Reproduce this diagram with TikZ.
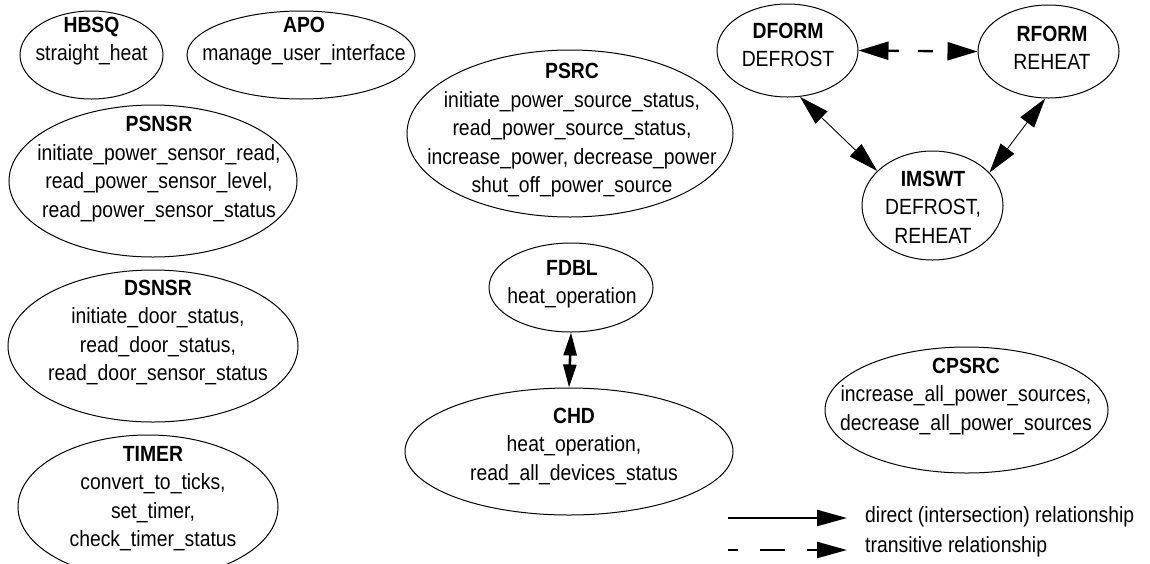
\documentclass[tikz,border=0pt]{standalone}
\usepackage{fontspec}
\setmainfont{Liberation Sans}[FakeStretch=0.88]
\usetikzlibrary{shapes.geometric,arrows.meta}
\begin{document}
\begin{tikzpicture}[x=1pt,y=-1pt,
  ent/.style={ellipse, draw, line width=1pt, inner sep=0pt},
  lbl/.style={align=center, inner sep=0pt, font=\fontsize{22}{28.5}\selectfont},
  key/.style={anchor=west, inner sep=0pt, font=\fontsize{22}{28.5}\selectfont},
  direct/.style={line width=0.9pt, >={Triangle[length=30pt,width=17pt]}, <->},
  trans/.style={line width=2.4pt, dash pattern=on 11pt off 19pt on 15pt off 15pt,
                >={Triangle[length=30pt,width=18pt]}, <->},
  vrel/.style={line width=2.6pt, >={Triangle[length=23pt,width=13pt]}, <->},
  keysolid/.style={line width=2.4pt, -{Triangle[length=30pt,width=16pt]}},
  keydash/.style={line width=2.4pt, dash pattern=on 25pt off 22pt, dash phase=15pt,
                  -{Triangle[length=30pt,width=16pt]}}]
\fill[white] (0,0) rectangle (1150,563);
\useasboundingbox (0,0) rectangle (1150,563);

% ellipses
\node[ent, minimum width=143pt, minimum height=88pt]  (HBSQ)  at (91.5,55)    {};
\node[ent, minimum width=228pt, minimum height=88pt]  (APO)   at (301,55)     {};
\node[ent, minimum width=288pt, minimum height=152pt] (PSNSR) at (153,181)    {};
\node[ent, minimum width=290pt, minimum height=152pt] (DSNSR) at (153,346)    {};
\node[ent, minimum width=260pt, minimum height=144pt] (TIMER) at (148,507)    {};
\node[ent, minimum width=326pt, minimum height=167pt] (PSRC)  at (570,133.5)  {};
\node[ent, minimum width=164pt, minimum height=89pt]  (FDBL)  at (571,287.5)  {};
\node[ent, minimum width=328pt, minimum height=127pt] (CHD)   at (569,451.5)  {};
\node[ent, minimum width=141pt, minimum height=93pt]  (DFORM) at (787.5,50.5) {};
\node[ent, minimum width=141pt, minimum height=93pt]  (RFORM) at (1048.5,51.5){};
\node[ent, minimum width=141pt, minimum height=109pt] (IMSWT) at (932.5,205.5){};
\node[ent, minimum width=283pt, minimum height=126pt] (CPSRC) at (966.5,410)  {};

% texts
\node[lbl] (HBSQ-t)  at (91.5,41)  {\textbf{HBSQ}\\straight\_heat};
\node[lbl] (APO-t)   at (304,41)   {\textbf{APO}\\manage\_user\_interface};
\node[lbl] (PSNSR-t) at (159,169)  {\textbf{PSNSR}\\initiate\_power\_sensor\_read,\\read\_power\_sensor\_level,\\read\_power\_sensor\_status};
\node[lbl] (DSNSR-t) at (158,332.5){\textbf{DSNSR}\\initiate\_door\_status,\\read\_door\_status,\\read\_door\_sensor\_status};
\node[lbl] (TIMER-t) at (153,498.5){\textbf{TIMER}\\convert\_to\_ticks,\\set\_timer,\\check\_timer\_status};
\node[lbl] (PSRC-t)  at (572,130.5){\textbf{PSRC}\\initiate\_power\_source\_status,\\read\_power\_source\_status,\\increase\_power, decrease\_power\\shut\_off\_power\_source};
\node[lbl] (FDBL-t)  at (572,284)  {\textbf{FDBL}\\heat\_operation};
\node[lbl] (CHD-t)   at (574,446)  {\textbf{CHD}\\heat\_operation,\\read\_all\_devices\_status};
\node[lbl] (DFORM-t) at (788,45)   {\textbf{DFORM}\\DEFROST};
\node[lbl] (RFORM-t) at (1052,48)  {\textbf{RFORM}\\REHEAT};
\node[lbl] (IMSWT-t) at (933,207)  {\textbf{IMSWT}\\DEFROST,\\REHEAT};
\node[lbl] (CPSRC-t) at (966,396.5){\textbf{CPSRC}\\increase\_all\_power\_sources,\\decrease\_all\_power\_sources};

% relationships
\draw[trans]  (DFORM.east) -- (RFORM.west);
\draw[direct] (DFORM.-75)  -- (IMSWT.148);
\draw[direct] (RFORM.-94)  -- (IMSWT.30);
\draw[vrel]   (FDBL.south) -- (CHD.north);

% key
\coordinate (k1a) at (728,518);
\coordinate (k1b) at (847,518);
\coordinate (k2a) at (728,550);
\coordinate (k2b) at (847,550);
\draw[keysolid] (k1a) -- (k1b);
\draw[keydash]  (k2a) -- (k2b);
\node[key] (k1t) at (865,517) {direct (intersection) relationship};
\node[key] (k2t) at (865,547) {transitive relationship};
\end{tikzpicture}
\end{document}
